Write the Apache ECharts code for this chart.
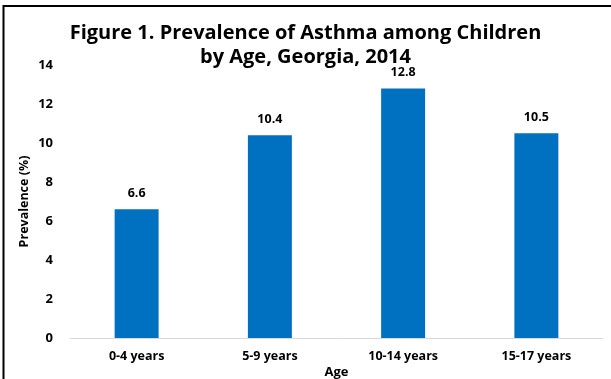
<!DOCTYPE html>
<html>
<head>
<meta charset="utf-8">
<script src="https://cdn.jsdelivr.net/npm/echarts@6/dist/echarts.min.js"></script>
<style>
  html, body { margin: 0; padding: 0; background: #fff; }
  #chart { width: 611px; height: 379px; }
</style>
</head>
<body>
<div id="chart"></div>
<script>
// Asthma prevalence among children by age group, Georgia 2014
const categories = ['0-4 years', '5-9 years', '10-14 years', '15-17 years'];
const prevalence = [6.6, 10.4, 12.8, 10.5];
const yTicks = [0, 2, 4, 6, 8, 10, 12, 14];

const FONT = '"Open Sans", "DejaVu Sans", sans-serif';
const chart = echarts.init(document.getElementById('chart'), null, { renderer: 'canvas' });

chart.setOption({
  animation: false,
  backgroundColor: '#ffffff',
  title: {
    text: 'Figure 1. Prevalence of Asthma among Children\nby Age, Georgia, 2014',
    left: 'center',
    top: 16,
    padding: [5, 0, 5, 10],
    textStyle: {
      fontFamily: FONT,
      fontWeight: 'bold',
      fontSize: 20,
      lineHeight: 24,
      color: '#000'
    }
  },
  grid: { left: 70, right: 8, top: 65, bottom: 41, containLabel: false, outerBoundsMode: 'none' },
  xAxis: {
    type: 'category',
    data: categories,
    name: 'Age',
    nameLocation: 'middle',
    nameGap: 28,
    nameMoveOverlap: false,
    nameTextStyle: { fontFamily: FONT, fontWeight: 'bold', fontSize: 13, color: '#000' },
    axisLine: { lineStyle: { color: '#d9d9d9', width: 1 } },
    axisTick: { show: false },
    axisLabel: { fontFamily: FONT, fontWeight: 'bold', fontSize: 12.5, color: '#000', margin: 12 }
  },
  yAxis: {
    type: 'value',
    min: yTicks[0],
    max: yTicks[yTicks.length - 1],
    interval: 2,
    name: 'Prevalence (%)',
    nameLocation: 'middle',
    nameGap: 39,
    nameMoveOverlap: false,
    nameTextStyle: { fontFamily: FONT, fontWeight: 'bold', fontSize: 12.5, color: '#000' },
    axisLine: { show: false },
    axisTick: { show: false },
    splitLine: { show: false },
    axisLabel: { fontFamily: FONT, fontWeight: 'bold', fontSize: 13, color: '#000', margin: 17 }
  },
  series: [{
    type: 'bar',
    data: prevalence,
    barWidth: '33%',
    itemStyle: { color: '#0070c0' },
    label: {
      show: true,
      position: 'top',
      distance: 9,
      fontFamily: FONT,
      fontWeight: 'bold',
      fontSize: 12.5,
      color: '#000',
      formatter: p => p.value.toFixed(1)
    }
  }],
  graphic: [
    { type: 'line', shape: { x1: 3, y1: 6, x2: 611, y2: 6 }, style: { stroke: '#000', lineWidth: 2 } },
    { type: 'line', shape: { x1: 3.5, y1: 5, x2: 3.5, y2: 379 }, style: { stroke: '#000', lineWidth: 2 } }
  ]
});
</script>
</body>
</html>
